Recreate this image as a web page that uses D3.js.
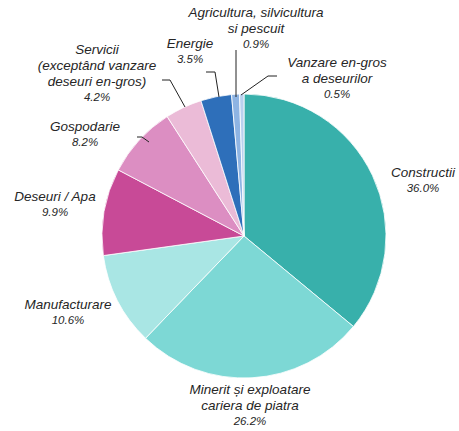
<!DOCTYPE html>
<html><head><meta charset="utf-8">
<script src="https://cdn.jsdelivr.net/npm/d3@7"></script>
<style>body{margin:0;background:#fff}svg{display:block}text{font-family:"Liberation Sans",Arial,sans-serif;font-style:italic;fill:#262626}</style>
</head><body>
<script>
const categories = ["Constructii","Minerit și exploatare cariera de piatra","Manufacturare","Deseuri / Apa","Gospodarie","Servicii (exceptând vanzare deseuri en-gros)","Energie","Agricultura, silvicultura si pescuit","Vanzare en-gros a deseurilor"];
const values = [36.0,26.2,10.6,9.9,8.2,4.2,3.5,0.9,0.5];
const colors = ["#38b0ab","#7dd8d5","#a9e6e4","#c84a97","#dc8ec2","#ebbbd7","#2e6fba","#8eb4e3","#b9d1ef"];
const labelLines = [["Constructii"],["Minerit și exploatare","cariera de piatra"],["Manufacturare"],["Deseuri / Apa"],["Gospodarie"],["Servicii","(exceptând vanzare","deseuri en-gros)"],["Energie"],["Agricultura, silvicultura","si pescuit"],["Vanzare en-gros","a deseurilor"]];
const labelPos = [[423,177],[250,394],[68,309],[55,201],[85,131],[97,54],[190,48],[256,17],[337,67]];
const leaders = [null,null,null,null,[[137,137],[142,137],[149,142]],[[162,80],[170,80],[185,107]],[[206,72],[215,72],[219,97]],[[236,50],[236,97]],[[277,76],[268,76],[241,95]]];

const W=459,H=431,cx=244,cy=236,R=142;
const svg=d3.select("body").append("svg").attr("width",W).attr("height",H);
const pie=d3.pie().sort(null).value(d=>d);
const arc=d3.arc().innerRadius(0).outerRadius(R);
const g=svg.append("g").attr("transform",`translate(${cx},${cy})`);
g.selectAll("path").data(pie(values)).join("path").attr("d",arc)
  .attr("fill",(d,i)=>colors[i]).attr("stroke","#fff").attr("stroke-width",0.8);

const line=d3.line();
leaders.forEach(l=>{ if(l) svg.append("path").attr("d",line(l)).attr("fill","none").attr("stroke","#222").attr("stroke-width",1);});

categories.forEach((c,i)=>{
  const [x,y]=labelPos[i];
  const t=svg.append("text").attr("text-anchor","middle").attr("x",x).attr("y",y);
  labelLines[i].forEach((s,j)=>t.append("tspan").attr("x",x).attr("dy",j?16:0).attr("font-size",13.5).text(s));
  t.append("tspan").attr("x",x).attr("dy",15).attr("font-size",11.5).text(values[i].toFixed(1)+"%");
});
</script>
</body></html>
